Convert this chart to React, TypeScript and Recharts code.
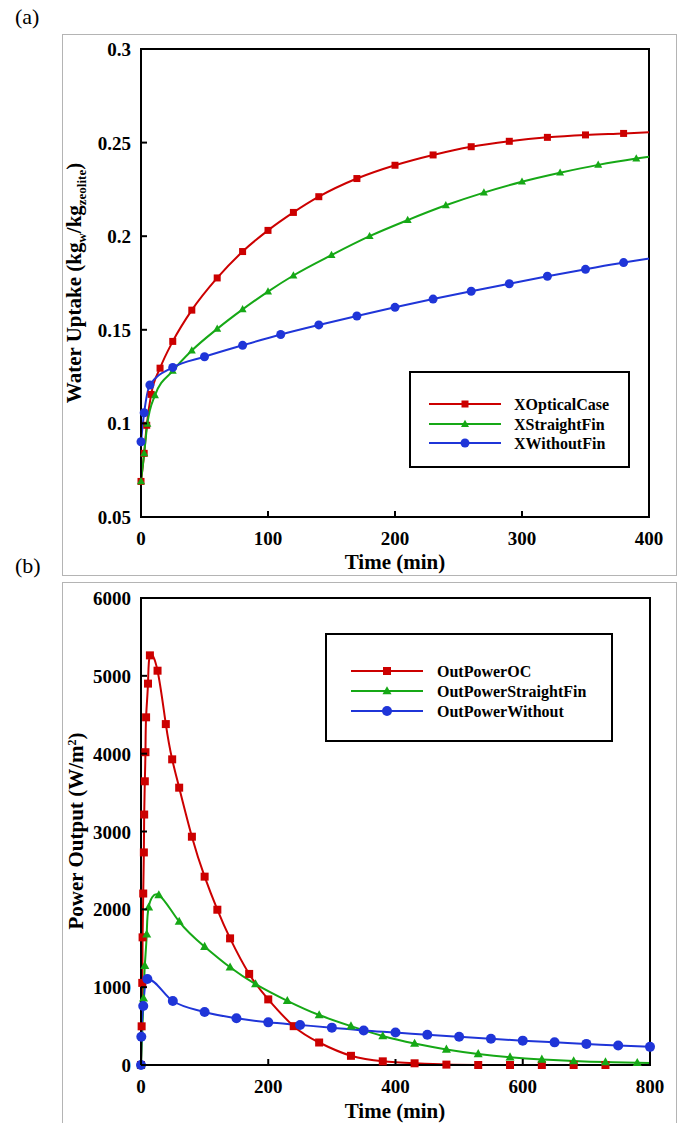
import React from 'react';
import { LineChart, Line, XAxis, YAxis, ReferenceArea, Legend, Label } from 'recharts';

const FONT = '"Liberation Serif", "Times New Roman", serif';
const RED = '#cc0000';
const GREEN = '#16a816';
const BLUE = '#1f35d8';

// (a) water uptake vs time
const upTicksX = [0, 100, 200, 300, 400];
const upTicksY = [0.05, 0.1, 0.15, 0.2, 0.25, 0.3];
const ocTime = [0, 2.5, 4.5, 8, 15, 25, 40, 60, 80, 100, 120, 140, 170, 200, 230, 260, 290, 320, 350, 380, 400];
const ocUptake = [0.069, 0.084, 0.099, 0.1155, 0.1295, 0.1438, 0.1605, 0.1777, 0.1918, 0.2031, 0.2127, 0.2211, 0.2308, 0.2379, 0.2434, 0.2478, 0.2507, 0.2528, 0.2541, 0.2549, 0.2555];
const sfTime = [0, 2.5, 5, 11, 25, 40, 60, 80, 100, 120, 150, 180, 210, 240, 270, 300, 330, 360, 390, 400];
const sfUptake = [0.069, 0.084, 0.0997, 0.115, 0.128, 0.1389, 0.1505, 0.1609, 0.1704, 0.179, 0.1899, 0.2, 0.2086, 0.2165, 0.2233, 0.2291, 0.2339, 0.2381, 0.2415, 0.2425];
const wfTime = [0, 2.5, 7, 25, 50, 80, 110, 140, 170, 200, 230, 260, 290, 320, 350, 380, 400];
const wfUptake = [0.0902, 0.1057, 0.1205, 0.1299, 0.1356, 0.1417, 0.1475, 0.1526, 0.1574, 0.162, 0.1664, 0.1706, 0.1746, 0.1786, 0.1823, 0.1859, 0.188];

// (b) power output vs time
const pwTicksX = [0, 200, 400, 600, 800];
const pwTicksY = [0, 1000, 2000, 3000, 4000, 5000, 6000];
const pocTime = [0, 1, 2, 2.5, 3.5, 4.5, 5, 6, 7, 8, 11, 14, 26, 39, 49, 60, 80, 100, 120, 140, 170, 200, 240, 280, 330, 380, 430, 480, 530, 580, 630, 680, 730];
const pocPower = [0, 497, 1055, 1640, 2203, 2731, 3218, 3645, 4019, 4467, 4900, 5263, 5066, 4380, 3927, 3563, 2933, 2420, 1995, 1627, 1170, 843, 499, 289, 118, 47, 22, 5, 0, 0, 0, 0, 0];
const psfTime = [0, 4, 6, 9, 12, 28, 60, 100, 140, 180, 230, 280, 330, 380, 430, 480, 530, 580, 630, 680, 730, 780, 800];
const psfPower = [0, 857, 1276, 1679, 2026, 2184, 1842, 1520, 1255, 1040, 825, 642, 499, 372, 275, 200, 142, 100, 71, 51, 37, 29, 26];
const pwoTime = [0, 0.5, 3.5, 10, 50, 100, 150, 200, 250, 300, 350, 400, 450, 500, 550, 600, 650, 700, 750, 800];
const pwoPower = [0, 364, 758, 1105, 822, 681, 600, 548, 514, 480, 444, 417, 388, 362, 337, 313, 291, 271, 250, 233];

const pts = (t: number[], y: number[]) => t.map((v, i) => ({ t: v, y: y[i] }));

type Shape = 'square' | 'triangle' | 'circle';

const marker = (shape: Shape, color: string, cx: number, cy: number, s: number, key?: string) => {
  if (shape === 'square') return <rect key={key} x={cx - s / 2} y={cy - s / 2} width={s} height={s} fill={color} />;
  if (shape === 'triangle') {
    const h = s * 0.9;
    return <polygon key={key} points={`${cx},${cy - h * 0.6} ${cx + s / 2},${cy + h * 0.4} ${cx - s / 2},${cy + h * 0.4}`} fill={color} />;
  }
  return <circle key={key} cx={cx} cy={cy} r={s / 2} fill={color} />;
};

const dotFor = (shape: Shape, color: string, s: number, hideLast: boolean) => (p: any) => {
  const key = `d${p.index}`;
  if (p.cx == null || p.cy == null) return <g key={key} />;
  if (hideLast && p.points && p.index === p.points.length - 1) return <g key={key} />;
  return marker(shape, color, p.cx, p.cy, s, key);
};

const YTick = (fmt: (v: number) => string) => (p: any) => (
  <g>
    <line x1={p.x} y1={p.y} x2={p.x + 6} y2={p.y} stroke="#000" strokeWidth={2} />
    <text x={p.x - 10} y={p.y + 7} textAnchor="end" fontFamily={FONT} fontWeight="bold" fontSize={19} fill="#000">
      {fmt(p.payload.value)}
    </text>
  </g>
);

const XTick = (p: any) => (
  <g>
    <line x1={p.x} y1={p.y} x2={p.x} y2={p.y - 6} stroke="#000" strokeWidth={2} />
    <text x={p.x} y={p.y + 28} textAnchor="middle" fontFamily={FONT} fontWeight="bold" fontSize={19} fill="#000">
      {p.payload.value}
    </text>
  </g>
);

type Item = { name: string; color: string; shape: Shape; size: number };

const LegendBox = ({ items, w, h, rows, lx0, lx1, tx }: { items: Item[]; w: number; h: number; rows: number[]; lx0: number; lx1: number; tx: number }) => (
  <div style={{ width: w, height: h, border: '2px solid #000', boxSizing: 'border-box', background: '#fff', position: 'relative' }}>
    <svg width={w} height={h} style={{ position: 'absolute', left: -2, top: -2, overflow: 'visible' }}>
      {items.map((it, i) => (
        <g key={it.name}>
          <line x1={lx0} y1={rows[i]} x2={lx1} y2={rows[i]} stroke={it.color} strokeWidth={2} />
          {marker(it.shape, it.color, (lx0 + lx1) / 2, rows[i], it.size)}
          <text x={tx} y={rows[i] + 6} fontFamily={FONT} fontWeight="bold" fontSize={16} fill="#000">
            {it.name}
          </text>
        </g>
      ))}
    </svg>
  </div>
);

const boxStyle = (top: number, height: number): React.CSSProperties => ({
  position: 'absolute', left: 62, top, width: 615, height, border: '1px solid #b4b4b4', boxSizing: 'border-box',
});

const upItems: Item[] = [
  { name: 'XOpticalCase', color: RED, shape: 'square', size: 7 },
  { name: 'XStraightFin', color: GREEN, shape: 'triangle', size: 8 },
  { name: 'XWithoutFin', color: BLUE, shape: 'circle', size: 9 },
];
const pwItems: Item[] = [
  { name: 'OutPowerOC', color: RED, shape: 'square', size: 8 },
  { name: 'OutPowerStraightFin', color: GREEN, shape: 'triangle', size: 9 },
  { name: 'OutPowerWithout', color: BLUE, shape: 'circle', size: 10 },
];

const axisLine = { stroke: '#000', strokeWidth: 2 };

export default function App() {
  return (
    <div style={{ position: 'absolute', left: 0, top: 0, width: 681, height: 1123, background: '#fff' }}>
      <svg width={60} height={40} style={{ position: 'absolute', left: 0, top: 0 }}>
        <text x={15} y={24} fontFamily={FONT} fontSize={22} fill="#000">(a)</text>
      </svg>
      <svg width={60} height={40} style={{ position: 'absolute', left: 0, top: 548 }}>
        <text x={15} y={25} fontFamily={FONT} fontSize={22} fill="#000">(b)</text>
      </svg>
      <div style={boxStyle(34, 542)} />
      <div style={boxStyle(582, 560)} />

      <div style={{ position: 'absolute', left: 62, top: 34 }}>
        <LineChart width={615} height={542} margin={{ top: 15, right: 28, bottom: 19, left: 0 }}>
          <XAxis dataKey="t" type="number" domain={[0, 400]} ticks={upTicksX} height={40} axisLine={axisLine}
            tickLine={false} tickSize={0} tickMargin={0} tick={XTick} interval={0}>
            <Label content={() => (
              <text x={333} y={535} textAnchor="middle" fontFamily={FONT} fontWeight="bold" fontSize={21} fill="#000">Time (min)</text>
            )} />
          </XAxis>
          <YAxis type="number" domain={[0.05, 0.3]} ticks={upTicksY} width={79} axisLine={axisLine}
            tickLine={false} tickSize={0} tickMargin={0} tick={YTick((v) => String(v))} interval={0}>
            <Label content={() => (
              <text transform={`translate(19, ${15 + 234}) rotate(-90)`} textAnchor="middle" fontFamily={FONT} fontWeight="bold" fontSize={21} fill="#000">
                Water Uptake (kg<tspan fontSize={13} dy={5}>w</tspan><tspan dy={-5}>/kg</tspan><tspan fontSize={13} dy={5}>zeolite</tspan><tspan dy={-5}>)</tspan>
              </text>
            )} />
          </YAxis>
          <ReferenceArea x1={0} x2={400} y1={0.05} y2={0.3} fill="none" fillOpacity={0} stroke="#000" strokeWidth={2} />
          <Line data={pts(ocTime, ocUptake)} dataKey="y" name="XOpticalCase" type="monotone" stroke={RED} strokeWidth={2}
            dot={dotFor('square', RED, 7, true)} isAnimationActive={false} />
          <Line data={pts(sfTime, sfUptake)} dataKey="y" name="XStraightFin" type="monotone" stroke={GREEN} strokeWidth={2}
            dot={dotFor('triangle', GREEN, 8, true)} isAnimationActive={false} />
          <Line data={pts(wfTime, wfUptake)} dataKey="y" name="XWithoutFin" type="monotone" stroke={BLUE} strokeWidth={2}
            dot={dotFor('circle', BLUE, 9, true)} isAnimationActive={false} />
          <Legend layout="horizontal" align="center" verticalAlign="middle" width={221} height={97}
            wrapperStyle={{ left: 347, top: 337, width: 221, height: 97 }}
            content={() => <LegendBox items={upItems} w={221} h={97} rows={[33, 53, 72]} lx0={20} lx1={92} tx={105} />} />
        </LineChart>
      </div>

      <div style={{ position: 'absolute', left: 62, top: 582 }}>
        <LineChart width={615} height={541} margin={{ top: 16, right: 27, bottom: 18, left: 0 }}>
          <XAxis dataKey="t" type="number" domain={[0, 800]} ticks={pwTicksX} height={40} axisLine={axisLine}
            tickLine={false} tickSize={0} tickMargin={0} tick={XTick} interval={0}>
            <Label content={() => (
              <text x={333} y={536} textAnchor="middle" fontFamily={FONT} fontWeight="bold" fontSize={21} fill="#000">Time (min)</text>
            )} />
          </XAxis>
          <YAxis type="number" domain={[0, 6000]} ticks={pwTicksY} width={79} axisLine={axisLine}
            tickLine={false} tickSize={0} tickMargin={0} tick={YTick((v) => String(v))} interval={0}>
            <Label content={() => (
              <text transform={`translate(21, ${16 + 233}) rotate(-90)`} textAnchor="middle" fontFamily={FONT} fontWeight="bold" fontSize={21} fill="#000">
                Power Output (W/m<tspan fontSize={12} dy={-7}>2</tspan><tspan dy={7}>)</tspan>
              </text>
            )} />
          </YAxis>
          <ReferenceArea x1={0} x2={800} y1={0} y2={6000} fill="none" fillOpacity={0} stroke="#000" strokeWidth={2} />
          <Line data={pts(pocTime, pocPower)} dataKey="y" name="OutPowerOC" type="natural" stroke={RED} strokeWidth={2}
            dot={dotFor('square', RED, 8, false)} isAnimationActive={false} />
          <Line data={pts(psfTime, psfPower)} dataKey="y" name="OutPowerStraightFin" type="natural" stroke={GREEN} strokeWidth={2}
            dot={dotFor('triangle', GREEN, 9, true)} isAnimationActive={false} />
          <Line data={pts(pwoTime, pwoPower)} dataKey="y" name="OutPowerWithout" type="monotone" stroke={BLUE} strokeWidth={2}
            dot={dotFor('circle', BLUE, 10, false)} isAnimationActive={false} />
          <Legend layout="horizontal" align="center" verticalAlign="middle" width={288} height={109}
            wrapperStyle={{ left: 263, top: 51, width: 288, height: 109 }}
            content={() => <LegendBox items={pwItems} w={288} h={109} rows={[38, 58, 78]} lx0={26} lx1={98} tx={112} />} />
        </LineChart>
      </div>
    </div>
  );
}
